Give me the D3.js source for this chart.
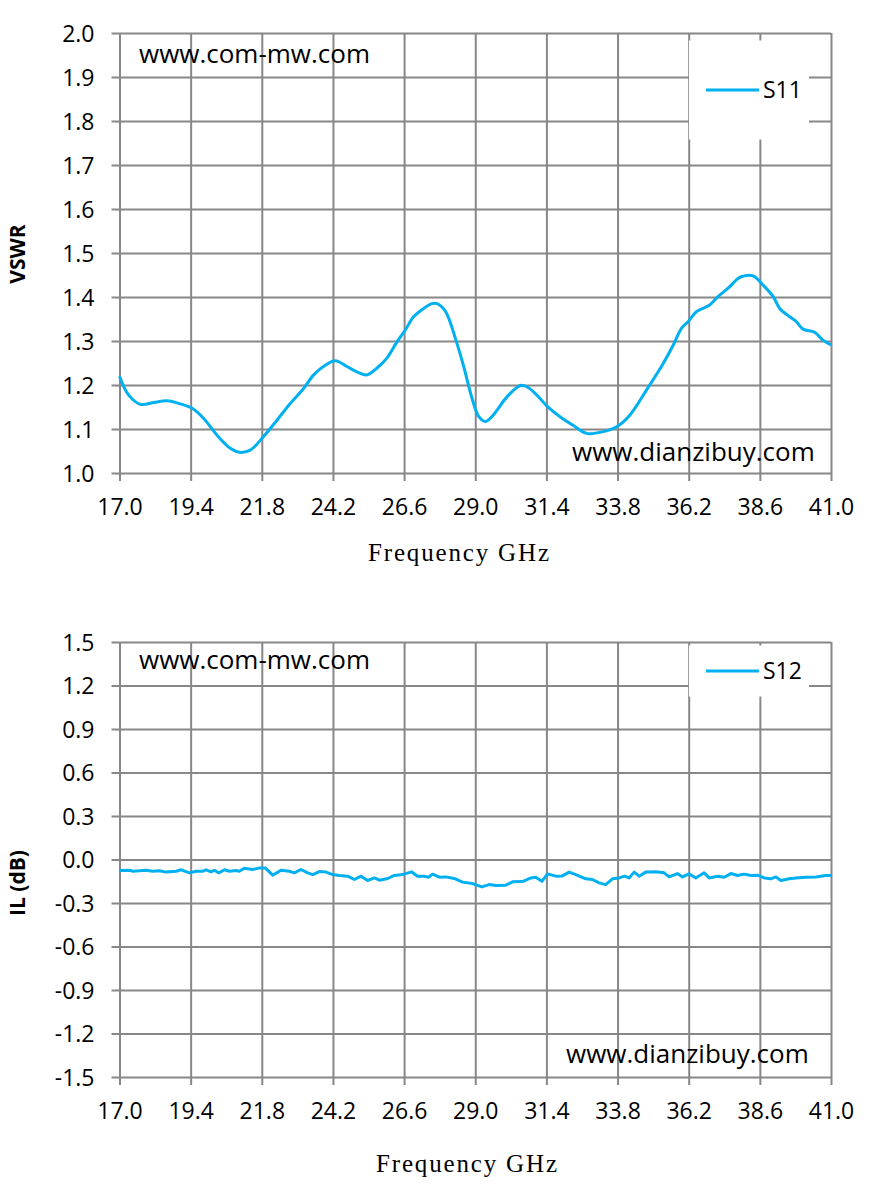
<!DOCTYPE html>
<html>
<head>
<meta charset="utf-8">
<script src="https://cdn.jsdelivr.net/npm/d3@7"></script>
<style>
  body { margin: 0; background: #fff; }
  .tick text { font-family: "Open Sans", sans-serif; font-size: 23px; fill: #000; }
</style>
</head>
<body>
<div id="chart"></div>
<script>
// Frequency ticks shared by both charts
const freqTicks = [17.0, 19.4, 21.8, 24.2, 26.6, 29.0, 31.4, 33.8, 36.2, 38.6, 41.0];
const vswrTicks = [1.0, 1.1, 1.2, 1.3, 1.4, 1.5, 1.6, 1.7, 1.8, 1.9, 2.0];
const ilTicks = [-1.5, -1.2, -0.9, -0.6, -0.3, 0.0, 0.3, 0.6, 0.9, 1.2, 1.5];

// S11 (VSWR)
const s11Freq = [17.0, 17.31, 17.71, 18.16, 18.6, 19.06, 19.45, 19.84, 20.29, 20.74, 21.05, 21.41, 21.86, 22.31,
  22.76, 23.21, 23.55, 23.94, 24.28, 24.67, 25.01, 25.35, 25.68, 26.02, 26.36, 26.64, 26.92, 27.26, 27.54, 27.71,
  27.99, 28.33, 28.61, 28.89, 29.12, 29.34, 29.56, 30.07, 30.52, 30.74, 31.08, 31.42, 31.86, 32.31, 32.76, 33.32,
  33.77, 34.22, 34.78, 35.34, 35.68, 35.96, 36.18, 36.47, 36.91, 37.19, 37.53, 37.81, 37.97, 38.37, 38.71, 39.05,
  39.27, 39.61, 39.83, 40.06, 40.45, 40.73, 41.0];
const s11 = [1.22, 1.177, 1.156, 1.160, 1.164, 1.157, 1.147, 1.124, 1.086, 1.056, 1.047, 1.052, 1.083, 1.120,
  1.158, 1.192, 1.223, 1.245, 1.255, 1.242, 1.230, 1.223, 1.238, 1.261, 1.298, 1.325, 1.355, 1.374, 1.385, 1.385,
  1.368, 1.306, 1.242, 1.170, 1.128, 1.117, 1.128, 1.173, 1.199, 1.196, 1.177, 1.152, 1.128, 1.108, 1.090, 1.094,
  1.105, 1.132, 1.189, 1.249, 1.291, 1.329, 1.344, 1.367, 1.382, 1.401, 1.420, 1.439, 1.446, 1.448, 1.427, 1.401,
  1.374, 1.355, 1.344, 1.327, 1.320, 1.302, 1.291];

// S12 (IL dB)
const s12Freq = [17.0, 17.34, 17.45, 17.90, 18.12, 18.35, 18.57, 18.91, 19.08, 19.36, 19.58, 19.81, 19.92, 20.09,
  20.20, 20.35, 20.54, 20.71, 20.93, 21.04, 21.21, 21.49, 21.72, 21.91, 22.17, 22.45, 22.73, 22.90, 23.12, 23.35,
  23.52, 23.74, 23.97, 24.19, 24.41, 24.70, 24.92, 25.15, 25.37, 25.60, 25.77, 26.05, 26.27, 26.55, 26.85, 27.05,
  27.28, 27.43, 27.56, 27.79, 28.01, 28.29, 28.57, 28.91, 29.22, 29.47, 29.70, 30.03, 30.26, 30.59, 30.88, 31.04,
  31.25, 31.44, 31.72, 31.94, 32.17, 32.39, 32.73, 32.95, 33.18, 33.40, 33.63, 33.85, 34.04, 34.19, 34.36, 34.53,
  34.75, 35.09, 35.37, 35.54, 35.82, 35.99, 36.21, 36.44, 36.72, 36.89, 37.17, 37.40, 37.62, 37.85, 38.07, 38.30,
  38.52, 38.75, 38.97, 39.14, 39.31, 39.59, 39.82, 40.15, 40.49, 40.83, 41.0];
const s12 = [-0.076, -0.074, -0.081, -0.074, -0.081, -0.078, -0.087, -0.081, -0.071, -0.092, -0.081, -0.081, -0.071, -0.085,
  -0.074, -0.092, -0.071, -0.081, -0.076, -0.081, -0.060, -0.069, -0.058, -0.058, -0.108, -0.074, -0.081, -0.092, -0.069, -0.092,
  -0.104, -0.083, -0.087, -0.104, -0.110, -0.115, -0.138, -0.115, -0.145, -0.127, -0.143, -0.131, -0.110, -0.104, -0.085, -0.115,
  -0.115, -0.122, -0.101, -0.122, -0.120, -0.131, -0.156, -0.166, -0.189, -0.173, -0.179, -0.177, -0.154, -0.152, -0.127, -0.122,
  -0.150, -0.099, -0.115, -0.113, -0.087, -0.104, -0.133, -0.138, -0.161, -0.173, -0.133, -0.127, -0.115, -0.127, -0.087, -0.115,
  -0.087, -0.085, -0.092, -0.120, -0.097, -0.120, -0.099, -0.127, -0.092, -0.127, -0.115, -0.122, -0.097, -0.110, -0.101, -0.110,
  -0.108, -0.127, -0.133, -0.120, -0.145, -0.133, -0.127, -0.122, -0.120, -0.110, -0.110];

const W = 873, H = 1187;
const gridColor = "#878787";
const lineColor = "#00B0F0";

const svg = d3.select("#chart").append("svg")
  .attr("width", W).attr("height", H);

const x = d3.scaleLinear().domain([17, 41]).range([119.5, 831]);

// Excel style labels: one decimal, plain hyphen for negatives
const fmt = d => d.toFixed(1);

function drawChart(cfg) {
  const g = svg.append("g");
  const y = d3.scaleLinear().domain(cfg.yDomain).range(cfg.yRange);
  const top = cfg.yRange[1], bottom = cfg.yRange[0];

  // horizontal grid
  g.append("g")
    .attr("transform", `translate(${x.range()[0]},0)`)
    .call(d3.axisLeft(y).tickValues(cfg.yTicks).tickSize(-(x.range()[1] - x.range()[0])).tickFormat(""))
    .call(a => a.select(".domain").remove())
    .selectAll("line").attr("stroke", gridColor).attr("stroke-width", 2);

  // vertical grid
  g.append("g")
    .attr("transform", `translate(0,${bottom})`)
    .call(d3.axisBottom(x).tickValues(freqTicks).tickSize(-(bottom - top)).tickFormat(""))
    .call(a => a.select(".domain").remove())
    .selectAll("line").attr("stroke", gridColor).attr("stroke-width", 2);

  // y axis ticks + labels
  const yAxis = g.append("g")
    .attr("transform", `translate(${x.range()[0]},0)`)
    .call(d3.axisLeft(y).tickValues(cfg.yTicks).tickSize(8).tickPadding(17).tickFormat(fmt));
  yAxis.select(".domain").remove();
  yAxis.selectAll("line").attr("stroke", gridColor).attr("stroke-width", 2);
  yAxis.selectAll("text").attr("dy", "0.36em");

  // x axis ticks + labels
  const xAxis = g.append("g")
    .attr("transform", `translate(0,${bottom})`)
    .call(d3.axisBottom(x).tickValues(freqTicks).tickSize(8).tickPadding(0).tickFormat(fmt));
  xAxis.select(".domain").remove();
  xAxis.selectAll("line").attr("stroke", gridColor).attr("stroke-width", 2);
  xAxis.selectAll("text").attr("dy", null).attr("y", 42);

  // legend box hides grid behind it
  g.append("rect")
    .attr("x", 689).attr("y", cfg.legendY - cfg.legendH / 2)
    .attr("width", 120).attr("height", cfg.legendH)
    .attr("fill", "#fff");
  g.append("line")
    .attr("x1", 706).attr("x2", 759)
    .attr("y1", cfg.legendY).attr("y2", cfg.legendY)
    .attr("stroke", lineColor).attr("stroke-width", 3);
  g.append("text")
    .attr("x", 763).attr("y", cfg.legendY + 8)
    .attr("font-family", "Open Sans, sans-serif").attr("font-size", 23)
    .text(cfg.name);

  // watermarks
  g.append("text")
    .attr("x", 139).attr("y", cfg.wm1Y)
    .attr("font-family", "Open Sans, sans-serif").attr("font-size", 26)
    .text("www.com-mw.com");
  g.append("text")
    .attr("x", cfg.wm2X).attr("y", cfg.wm2Y)
    .attr("font-family", "Open Sans, sans-serif").attr("font-size", 26)
    .text("www.dianzibuy.com");

  // series
  const line = d3.line()
    .x((d, i) => x(cfg.freq[i]))
    .y(d => y(d))
    .curve(cfg.curve);
  g.append("path")
    .datum(cfg.values)
    .attr("fill", "none")
    .attr("stroke", lineColor)
    .attr("stroke-width", 3)
    .attr("stroke-linejoin", "round")
    .attr("d", line);

  // axis titles
  g.append("text")
    .attr("transform", `translate(${cfg.yTitleX},${cfg.yTitleY}) rotate(-90)`)
    .attr("text-anchor", "middle")
    .attr("font-family", "Open Sans, sans-serif").attr("font-size", 21).attr("font-weight", "bold")
    .text(cfg.yTitle);
  g.append("text")
    .attr("x", cfg.xTitleX).attr("y", cfg.xTitleY)
    .attr("font-family", "Liberation Serif, serif").attr("font-size", 25)
    .attr("textLength", 181).attr("lengthAdjust", "spacing")
    .text("Frequency GHz");
}

drawChart({
  name: "S11", freq: s11Freq, values: s11, curve: d3.curveCatmullRom,
  yDomain: [1.0, 2.0], yRange: [473, 33], yTicks: vswrTicks,
  legendY: 90, legendH: 99,
  wm1Y: 63, wm2X: 572, wm2Y: 461,
  yTitle: "VSWR", yTitleX: 25, yTitleY: 254,
  xTitleX: 368, xTitleY: 561
});

drawChart({
  name: "S12", freq: s12Freq, values: s12, curve: d3.curveLinear,
  yDomain: [-1.5, 1.5], yRange: [1077, 642], yTicks: ilTicks,
  legendY: 671, legendH: 51,
  wm1Y: 669, wm2X: 566, wm2Y: 1063,
  yTitle: "IL (dB)", yTitleX: 25, yTitleY: 883,
  xTitleX: 376, xTitleY: 1172
});
</script>
</body>
</html>
